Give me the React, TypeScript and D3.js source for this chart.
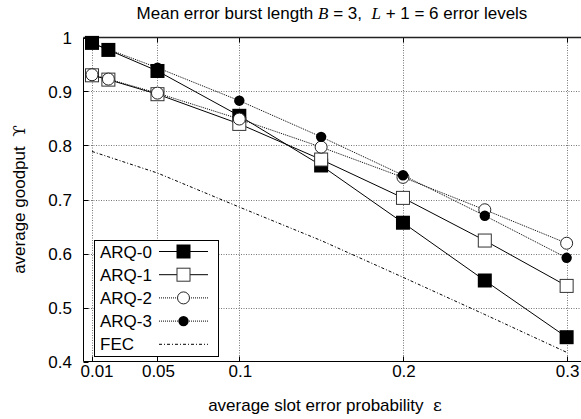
import React from 'react';
import * as d3 from 'd3';

// slot error probabilities where the curves were sampled
const eps = [0.01, 0.02, 0.05, 0.1, 0.15, 0.2, 0.25, 0.3];
const arq0 = [0.990, 0.977, 0.938, 0.855, 0.763, 0.657, 0.550, 0.445];
const arq1 = [0.930, 0.922, 0.895, 0.840, 0.774, 0.703, 0.624, 0.540];
const arq2 = [0.931, 0.923, 0.897, 0.849, 0.797, 0.741, 0.681, 0.619];
const arq3 = [0.990, 0.978, 0.944, 0.883, 0.816, 0.745, 0.670, 0.592];
const fec = [0.789, 0.779, 0.749, 0.686, 0.624, 0.556, 0.487, 0.417];

const xTicks = [0.01, 0.05, 0.1, 0.2, 0.3];
const yTicks = [0.4, 0.5, 0.6, 0.7, 0.8, 0.9, 1];
const seriesNames = ['ARQ-0', 'ARQ-1', 'ARQ-2', 'ARQ-3', 'FEC'];

const width = 581;
const height = 419;
const margin = { top: 37.5, right: -2, bottom: 57.5, left: 83.5 };
const font = '"Liberation Sans", Arial, Helvetica, sans-serif';
const fs = 17;

const styles = [
  { dash: undefined, marker: 'sqFill' },
  { dash: undefined, marker: 'sqOpen' },
  { dash: '1,1', marker: 'cOpen' },
  { dash: '1,1', marker: 'cFill' },
  { dash: '3,2,1,2', marker: 'none' }
];

function Marker({ kind, x, y }: { kind: string; x: number; y: number }) {
  if (kind === 'sqFill') return <rect x={x - 7} y={y - 7} width={14} height={14} fill="#000" />;
  if (kind === 'sqOpen') return <rect x={x - 6.5} y={y - 6.5} width={13} height={13} fill="#fff" stroke="#333" strokeWidth={1} />;
  if (kind === 'cOpen') return <circle cx={x} cy={y} r={6} fill="#fff" stroke="#222" strokeWidth={1} />;
  if (kind === 'cFill') return <circle cx={x} cy={y} r={5.2} fill="#000" />;
  return null;
}

export default function App() {
  const x = d3.scaleLinear().domain([0.0048, 0.31]).range([margin.left, width - margin.right]);
  const y = d3.scaleLinear().domain([0.4, 1]).range([height - margin.bottom, margin.top]);
  const allSeries = [arq0, arq1, arq2, arq3, fec];
  const line = d3.line<number>().x((d, i) => x(eps[i])).y(d => y(d));

  const x0 = margin.left, x1 = width - margin.right;
  const y0 = height - margin.bottom, y1 = margin.top;

  const lgX = 94.5, lgY = 240.5, lgW = 124, lgH = 116;

  return (
    <svg width={width} height={height} style={{ position: 'absolute', left: 0, top: 0 }} fontFamily={font}>
      <rect width={width} height={height} fill="#fff" />

      {/* grid */}
      {yTicks.filter(t => t > 0.4 && t < 1).map(t => (
        <line key={'gy' + t} x1={x0} x2={x1} y1={Math.round(y(t)) + 0.5} y2={Math.round(y(t)) + 0.5}
          stroke="#777" strokeDasharray="1,1.5" />
      ))}
      {xTicks.map(t => (
        <line key={'gx' + t} x1={Math.round(x(t)) + 0.5} x2={Math.round(x(t)) + 0.5} y1={y1} y2={y0}
          stroke="#777" strokeDasharray="1,1.5" />
      ))}

      {/* ticks */}
      {yTicks.map(t => (
        <line key={'ty' + t} x1={x0} x2={x0 + 5} y1={Math.round(y(t)) + 0.5} y2={Math.round(y(t)) + 0.5} stroke="#000" />
      ))}
      {xTicks.map(t => (
        <g key={'tx' + t}>
          <line x1={Math.round(x(t)) + 0.5} x2={Math.round(x(t)) + 0.5} y1={y0} y2={y0 - 5} stroke="#000" />
          <line x1={Math.round(x(t)) + 0.5} x2={Math.round(x(t)) + 0.5} y1={y1} y2={y1 + 5} stroke="#000" />
        </g>
      ))}

      {/* frame */}
      <line x1={x0} x2={x0} y1={y1} y2={y0} stroke="#000" />
      <line x1={x0} x2={x1} y1={y0} y2={y0} stroke="#000" />
      <line x1={x0} x2={x1} y1={y1} y2={y1} stroke="#222" strokeWidth={1.6} />

      {/* series */}
      {allSeries.map((vals, si) => (
        <g key={seriesNames[si]}>
          <path d={line(vals) || ''} fill="none" stroke="#000" strokeWidth={1}
            strokeDasharray={styles[si].dash} />
          {vals.map((v, i) => <Marker key={i} kind={styles[si].marker} x={x(eps[i])} y={y(v)} />)}
        </g>
      ))}

      {/* tick labels */}
      {yTicks.map(t => (
        <text key={'ly' + t} x={72} y={y(t)} dy="0.36em" textAnchor="end" fontSize={fs}>{d3.format('')(t)}</text>
      ))}
      {xTicks.map(t => (
        <text key={'lx' + t} x={x(t) + (t === 0.01 ? 5 : 1)} y={377} textAnchor="middle" fontSize={fs}>{t}</text>
      ))}

      {/* legend */}
      <rect x={lgX} y={lgY} width={lgW} height={lgH} fill="#fff" stroke="#000" />
      {seriesNames.map((name, i) => {
        const cy = 251.5 + i * 23.2;
        return (
          <g key={'lg' + name}>
            <text x={100} y={cy} dy="0.36em" fontSize={fs}>{name}</text>
            <line x1={159} x2={208} y1={cy} y2={cy} stroke="#000" strokeDasharray={styles[i].dash} />
            <Marker kind={styles[i].marker} x={183.5} y={cy} />
          </g>
        );
      })}

      {/* title and axis labels */}
      <text x={332} y={19} textAnchor="middle" fontSize={fs}>
        Mean error burst length <tspan fontFamily='"Liberation Serif", serif' fontStyle="italic">B</tspan> = 3,{'\u00a0\u00a0'}
        <tspan fontFamily='"Liberation Serif", serif' fontStyle="italic">L</tspan> + 1 = 6 error levels
      </text>
      <text x={325} y={411} textAnchor="middle" fontSize={fs}>
        average slot error probability{'\u00a0\u00a0'}<tspan fontFamily='"DejaVu Serif", serif'>ε</tspan>
      </text>
      <text transform={`translate(25,${(y0 + y1) / 2}) rotate(-90)`} textAnchor="middle" fontSize={fs}>
        average goodput{'\u00a0\u00a0'}<tspan fontFamily='"DejaVu Serif", serif'>ϒ</tspan>
      </text>
    </svg>
  );
}
